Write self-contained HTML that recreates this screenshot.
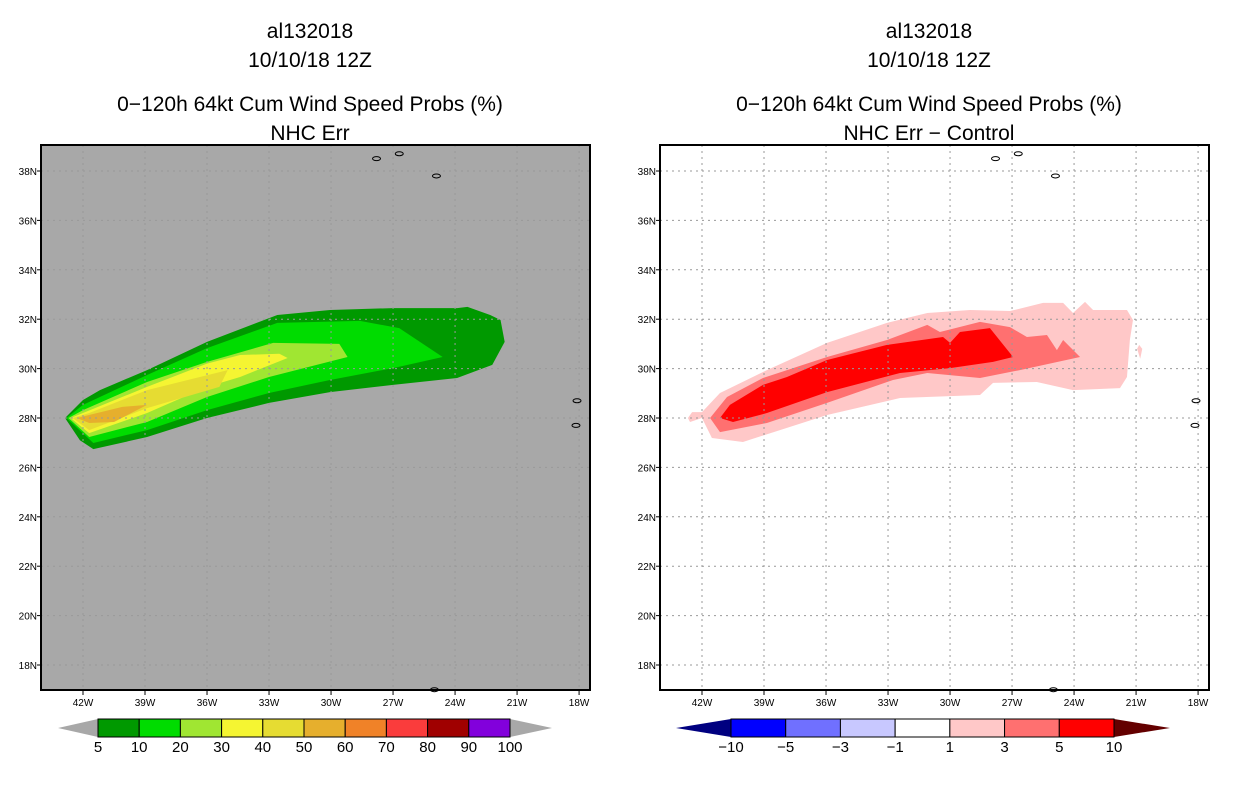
<!DOCTYPE html>
<html><head><meta charset="utf-8">
<style>
body{margin:0;background:#fff;width:1236px;height:800px;overflow:hidden}
svg{display:block}
text{font-family:"Liberation Sans",sans-serif;fill:#000}
.t{font-size:21px;text-anchor:middle}
.ax{font-size:10px}
.cb{font-size:15px;text-anchor:middle}
</style></head><body>
<svg id="s" width="1236" height="800"></svg>
<script>
const latTicks=[38,36,34,32,30,28,26,24,22,20,18];
const lonTicks=[-42,-39,-36,-33,-30,-27,-24,-21,-18];
const leftLevels=["5","10","20","30","40","50","60","70","80","90","100"];
const leftColors=["#009900","#00dc00","#a0e632","#f5f532","#e6dc32","#e6af2d","#f08228","#fa3c3c","#a00000","#8200dc"];
const rightLevels=["-10","-5","-3","-1","1","3","5","10"];
const rightColors=["#0000ff","#7070ff","#c8c8ff","#ffffff","#ffc8c8","#ff7070","#ff0000"];
const left5=[[-42.87,28],[-42,28.73],[-41.18,29.13],[-38.9,29.94],[-36,31.08],[-32.6,32.17],[-30.05,32.37],[-27,32.45],[-23.9,32.45],[-23.4,32.5],[-22.3,32.17],[-21.8,31.97],[-21.6,31.08],[-22.2,30.15],[-23.9,29.62],[-27,29.34],[-30.05,29.05],[-33,28.61],[-36,28],[-38.9,27.23],[-41.5,26.74],[-42.15,27.1]];
const left10=[[-42.8,28],[-42,28.53],[-38.9,29.74],[-36,30.83],[-32.6,31.85],[-28.6,31.93],[-26.7,31.64],[-24.6,30.47],[-27,30.02],[-30.05,29.54],[-33,29.01],[-36,28.32],[-38.9,27.51],[-41.5,26.99]];
const left20=[[-42.7,28],[-42,28.32],[-38.9,29.46],[-36,30.27],[-32.8,31.04],[-29.6,31.0],[-29.2,30.47],[-33,29.66],[-36,28.85],[-38.9,27.84],[-41.7,27.23]];
const left30=[[-42.6,28],[-42,28.2],[-38.9,29.26],[-36,30.2],[-34.4,30.55],[-32.5,30.6],[-32.1,30.43],[-34.4,29.66],[-36,29.26],[-38.9,28.2],[-41.7,27.39]];
const left40=[[-42.5,28],[-41.7,28.2],[-38.9,29.13],[-35,29.94],[-35.4,29.26],[-38.9,28.4],[-41.7,27.51]];
const left50=[[-42.3,28],[-40.1,28.45],[-38.9,28.53],[-40.5,27.84],[-41.7,27.8]];
const right1=[[-42.68,28],[-42.48,28.24],[-42,28.24],[-41.13,29.01],[-38.86,29.94],[-35.95,31.04],[-33.05,31.85],[-31.1,32.25],[-29.03,32.37],[-27.1,32.33],[-25.5,32.66],[-24.53,32.66],[-24.05,32.25],[-23.47,32.7],[-23.08,32.37],[-21.44,32.37],[-21.15,31.97],[-21.3,31.16],[-21.44,29.66],[-21.78,29.21],[-24.05,29.13],[-25.8,29.46],[-27.92,29.42],[-28.55,28.93],[-32.42,28.81],[-35.95,28.12],[-37.89,27.6],[-40.02,27.03],[-41.52,27.19],[-42,28],[-42.58,27.84]];
const right1b=[[-20.85,30.96],[-20.7,30.8],[-20.8,30.4],[-20.95,30.8]];
const right3=[[-41.61,28],[-40.79,28.85],[-39.05,29.62],[-35.95,30.47],[-33.05,31.16],[-31.1,31.77],[-30.49,31.48],[-28.55,31.89],[-27.1,31.68],[-26.28,31.28],[-25.31,31.36],[-24.83,30.75],[-24.53,31.16],[-23.71,30.47],[-26.62,29.94],[-28.55,29.62],[-31.1,29.82],[-32.76,29.54],[-35.95,28.61],[-38.86,27.8],[-41.13,27.43]];
const right5=[[-41.13,28],[-40.65,28.53],[-39.05,29.34],[-37.89,29.66],[-35.95,30.35],[-33.05,30.96],[-30.34,31.28],[-30,31.04],[-29.52,31.48],[-28.07,31.64],[-26.95,30.47],[-27.92,30.27],[-30,30.02],[-32.42,29.82],[-35.95,29.05],[-38.86,28.2],[-40.5,27.84]];
const islands=[[-27.8,38.5],[-26.7,38.7],[-24.9,37.8],[-25.0,17.0],[-18.1,28.7],[-18.15,27.7]];

const NS="http://www.w3.org/2000/svg";
const svg=document.getElementById('s');
function mk(tag,attrs,parent){const e=document.createElementNS(NS,tag);for(const k in attrs)e.setAttribute(k,attrs[k]);(parent||svg).appendChild(e);return e;}
function panel(x0,bg,layers,cols,titles,prefix){
  const x=lon=>x0+42+(lon+42)*20.67;
  const y=lat=>418-(lat-28)*24.7;
  const g=mk('g',{});
  
  
  const cx=x0+269;
  titles.forEach((t,i)=>{const e=mk('text',{x:cx,y:[38,67,111,140][i],class:'t'},g);e.textContent=t;
    
    });
  const bgr=mk('rect',{x:x0,y:145,width:549,height:545,fill:bg},g);
  
  
  layers.forEach((poly,i)=>{const p=mk('polygon',{points:poly.map(q=>x(q[0])+','+y(q[1])).join(' '),fill:cols[i]},g);
    
    });
  lonTicks.forEach(l=>{const ln=mk('line',{x1:x(l),x2:x(l),y1:145,y2:690,stroke:'#999','stroke-dasharray':'2,4'},g);
    
    
    mk('line',{x1:x(l),x2:x(l),y1:690,y2:695,stroke:'#000'},g);
    const t=mk('text',{x:x(l),y:706,class:'ax','text-anchor':'middle'},g);t.textContent=(-l)+'W';
    
    });
  latTicks.forEach(l=>{const ln=mk('line',{x1:x0,x2:x0+549,y1:y(l),y2:y(l),stroke:'#999','stroke-dasharray':'2,4'},g);
    
    
    mk('line',{x1:x0-4,x2:x0,y1:y(l),y2:y(l),stroke:'#000'},g);
    const t=mk('text',{x:x0-4,y:y(l)+4,class:'ax','text-anchor':'end'},g);t.textContent=l+'N';
    
    });
  islands.forEach(p=>{const e=mk('ellipse',{cx:x(p[0]),cy:y(p[1]),rx:4,ry:2,fill:'none',stroke:'#000','stroke-width':1},g);
    
    });
  const fr=mk('rect',{x:x0,y:145,width:549,height:545,fill:'none',stroke:'#000','stroke-width':2},g);
  
  
}
function colorbar(x1,x2,tipL,tipR,cols,labels,lc,rc,prefix){
  const g=mk('g',{});
  
  
  mk('polygon',{points:`${tipL},728 ${x1},719 ${x1},737`,fill:lc},g);
  mk('polygon',{points:`${tipR},728 ${x2},719 ${x2},737`,fill:rc},g);
  const w=(x2-x1)/cols.length;
  cols.forEach((c,i)=>{const r=mk('rect',{x:x1+i*w,y:719,width:w,height:18,fill:c,stroke:'#000','stroke-width':1},g);
    
    });
  labels.forEach((l,i)=>{const t=mk('text',{x:x1+i*w,y:752,class:'cb'},g);t.textContent=l.replace('-','\u2212');
    
    });
}
panel(41,'#a8a8a8',[left5,left10,left20,left30,left40,left50],leftColors,['al132018','10/10/18 12Z','0\u2212120h 64kt Cum Wind Speed Probs (%)','NHC Err'],'left');
panel(660,'#ffffff',[right1,right1b,right3,right5],['#ffc8c8','#ffc8c8','#ff7070','#ff0000'],['al132018','10/10/18 12Z','0\u2212120h 64kt Cum Wind Speed Probs (%)','NHC Err \u2212 Control'],'right');
colorbar(98,510,58,552,leftColors,leftLevels,'#a8a8a8','#a8a8a8','left');
colorbar(731,1114,676,1170,rightColors,rightLevels,'#000080','#640000','right');
</script>
</body></html>
